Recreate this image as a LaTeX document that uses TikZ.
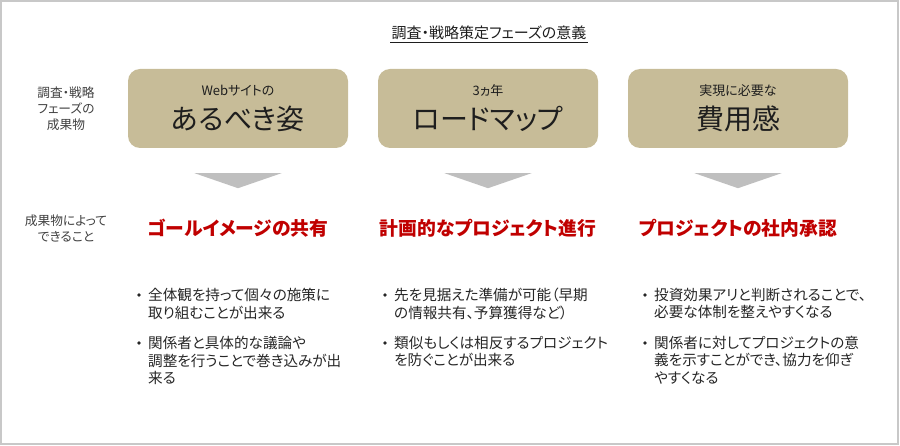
\documentclass[tikz,border=0pt]{standalone}
\usepackage{fontspec}
\setmainfont{Noto Sans CJK JP}[RawFeature=+palt]
\usetikzlibrary{positioning}
\definecolor{boxtan}{RGB}{199,188,152}
\definecolor{arrgray}{RGB}{191,191,191}
\definecolor{headred}{RGB}{192,0,0}
\definecolor{darktext}{RGB}{30,30,30}
\definecolor{itemgray}{RGB}{38,38,38}
\definecolor{sidegray}{RGB}{64,64,64}
\definecolor{framegray}{RGB}{200,200,200}

\begin{document}
\begin{tikzpicture}[x=1pt,y=-1pt,node distance=250pt,on grid,
	box/.style={fill=boxtan,rounded corners=12pt,minimum width=220pt,minimum height=79pt},
	sub/.style={font=\fontsize{13}{15}\selectfont,text=darktext},
	big/.style={font=\fontsize{28}{30}\selectfont,text=darktext},
	head/.style={font=\fontsize{18.8}{20}\selectfont\bfseries,text=headred},
	side/.style={font=\fontsize{12.7}{16}\selectfont,text=sidegray,align=center},
	item/.style={font=\fontsize{14.6}{17.5}\selectfont,text=itemgray,align=left,anchor=north west,inner sep=0pt},
	arr/.style={fill=arrgray}]
	\useasboundingbox (0,0) rectangle (900,446);
	\draw[framegray,line width=1.5pt] (1,1) rectangle (898,444);

	\node[font=\fontsize{15}{16}\selectfont,text=darktext,inner sep=1pt] (title) at (489,33) {調査・戦略策定フェーズの意義};
	\draw[darktext,line width=0.8pt] ([yshift=-1.5pt]title.south west) -- ([yshift=-1.5pt]title.south east);

	\node[side] (phase) at (66,109) {調査・戦略\\フェーズの\\成果物};
	\node[side] (can) at (66,228) {成果物によって\\できること};

	\node[box] (site) at (238,108.5) {};
	\node[box] (road) [right=of site] {};
	\node[box] (cost) [right=of road] {};
	\node[sub] (site-sub) at ([yshift=17.5pt]site.center) {Webサイトの};
	\node[big] (site-big) at ([yshift=-10.5pt]site.center) {あるべき姿};
	\node[sub] (road-sub) at ([yshift=17.5pt]road.center) {3ヵ年};
	\node[big] (road-big) at ([yshift=-10.5pt]road.center) {ロードマップ};
	\node[sub] (cost-sub) at ([yshift=17.5pt]cost.center) {実現に必要な};
	\node[big] (cost-big) at ([yshift=-10.5pt]cost.center) {費用感};

	\fill[arr] ([shift={(-43.5,25)}]site.south) -- ([shift={(43.5,25)}]site.south) -- ([shift={(0,40)}]site.south) -- cycle;
	\fill[arr] ([shift={(-43.5,25)}]road.south) -- ([shift={(43.5,25)}]road.south) -- ([shift={(0,40)}]road.south) -- cycle;
	\fill[arr] ([shift={(-43.5,25)}]cost.south) -- ([shift={(43.5,25)}]cost.south) -- ([shift={(0,40)}]cost.south) -- cycle;

	\node[head] (goal) [below=119.5pt of site] {ゴールイメージの共有};
	\node[head] (plan) [below=119.5pt of road] {計画的なプロジェクト進行};
	\node[head] (approve) [below=119.5pt of cost] {プロジェクトの社内承認};

	\node[item] (goal-a) at (148,288) {全体観を持って個々の施策に\\取り組むことが出来る};
	\node[item] (goal-b) at (148,336) {関係者と具体的な議論や\\調整を行うことで巻き込みが出\\来る};
	\node[item] (plan-a) at (394,288) {先を見据えた準備が可能（早期\\の情報共有、予算獲得など）};
	\node[item] (plan-b) at (394,336) {類似もしくは相反するプロジェクト\\を防ぐことが出来る};
	\node[item] (approve-a) at (654,288) {投資効果アリと判断されることで、\\必要な体制を整えやすくなる};
	\node[item] (approve-b) at (654,336) {関係者に対してプロジェクトの意\\義を示すことができ、協力を仰ぎ\\やすくなる};
	\fill[itemgray] ([shift={(-9,7)}]goal-a.north west) circle (1.8pt);
	\fill[itemgray] ([shift={(-9,7)}]goal-b.north west) circle (1.8pt);
	\fill[itemgray] ([shift={(-9,7)}]plan-a.north west) circle (1.8pt);
	\fill[itemgray] ([shift={(-9,7)}]plan-b.north west) circle (1.8pt);
	\fill[itemgray] ([shift={(-9,7)}]approve-a.north west) circle (1.8pt);
	\fill[itemgray] ([shift={(-9,7)}]approve-b.north west) circle (1.8pt);
\end{tikzpicture}
\end{document}
